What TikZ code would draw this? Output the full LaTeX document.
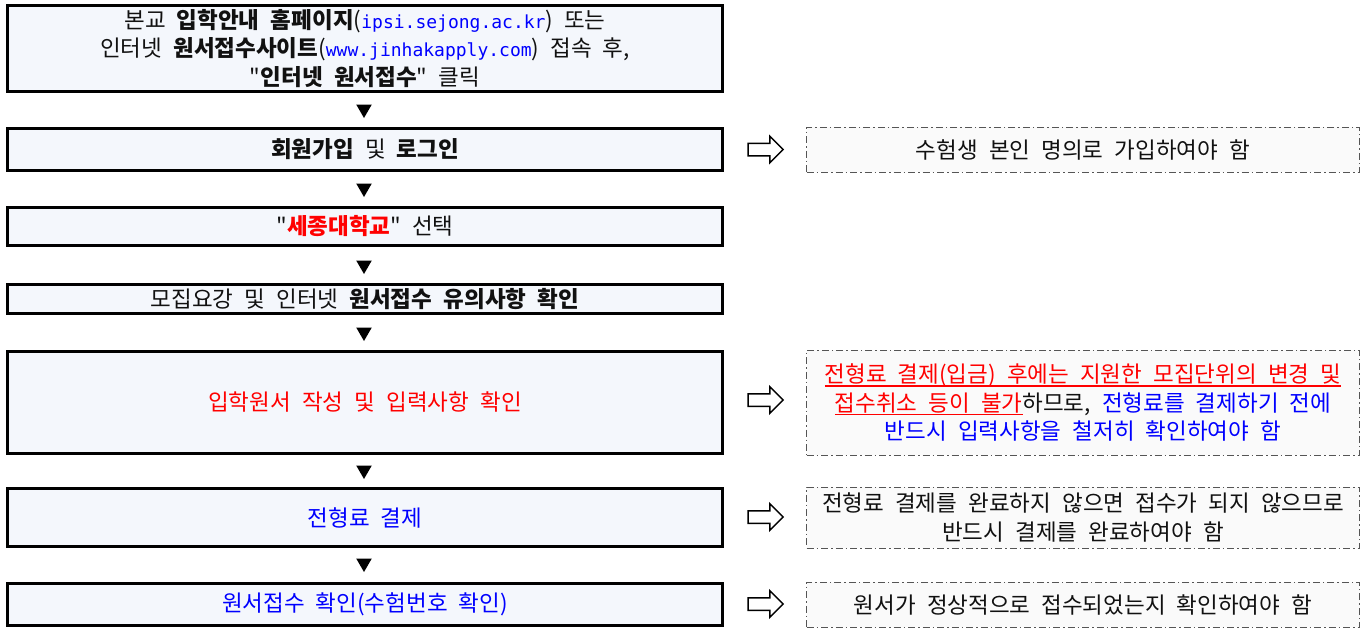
\documentclass[tikz,border=0pt]{standalone}
\usepackage{fontspec}
\newfontfamily\kfont{Noto Sans CJK KR}[WordSpace=2.2]
\newfontfamily\urlfont{DejaVu Sans Mono}
\usetikzlibrary{shapes.geometric,shapes.arrows}
\definecolor{lbfill}{HTML}{F4F7FC}
\definecolor{rbfill}{HTML}{FAFAFA}
\definecolor{kblue}{HTML}{0000FF}
\definecolor{kred}{HTML}{FF0000}
\definecolor{dashgray}{HTML}{555555}
\definecolor{ktext}{HTML}{111111}
\newcommand\myurl[1]{{\urlfont\fontsize{18}{28.5}\selectfont\textcolor{kblue}{#1}}}
\newcommand\myul[1]{\setbox0\hbox{#1}\rlap{\rule[-4pt]{\wd0}{1.2pt}}\box0}
\begin{document}
\begin{tikzpicture}[x=1pt,y=-1pt,
  leftbox/.style={draw=black, line width=3pt, fill=lbfill, minimum width=715pt,
    inner sep=0pt, align=center, text=ktext, font=\kfont\fontsize{22.5}{28.5}\selectfont},
  rightbox/.style={draw=dashgray, line width=1pt, dash pattern=on 7pt off 3pt on 1.5pt off 3pt,
    fill=rbfill, minimum width=553pt, inner sep=0pt, align=center, text=ktext,
    font=\kfont\fontsize{22.5}{28.5}\selectfont},
  downtri/.style={regular polygon, regular polygon sides=3, shape border rotate=180,
    fill=black, inner sep=0pt, minimum size=18pt},
  hollow/.style={single arrow, draw=black, line width=1.5pt, fill=white, inner sep=0pt,
    minimum height=35pt, single arrow head extend=7pt, single arrow head indent=0pt}
]
\useasboundingbox (0,0) rectangle (1371,629);

% left column
\node[leftbox, minimum height=86pt] (b1) at (365,48.5)
  {본교 \textbf{입학안내 홈페이지}(\myurl{ipsi.sejong.ac.kr}) 또는\\
   인터넷 \textbf{원서접수사이트}(\myurl{www.jinhakapply.com}) 접속 후,\\
   "\textbf{인터넷 원서접수}" 클릭};
\node[leftbox, minimum height=42pt] (b2) at (365,149.5)
  {\textbf{회원가입} 및 \textbf{로그인}};
\node[leftbox, minimum height=38pt] (b3) at (365,226.5)
  {"\textcolor{kred}{\textbf{세종대학교}}" 선택};
\node[leftbox, minimum height=29pt] (b4) at (365,299)
  {모집요강 및 인터넷 \textbf{원서접수 유의사항 확인}};
\node[leftbox, minimum height=102pt] (b5) at (365,402.5)
  {\textcolor{kred}{입학원서 작성 및 입력사항 확인}};
\node[leftbox, minimum height=58pt] (b6) at (365,517.5)
  {\textcolor{kblue}{전형료 결제}};
\node[leftbox, minimum height=42pt] (b7) at (365,604.5)
  {\textcolor{kblue}{원서접수 확인(수험번호 확인)}};

% down triangles
\node[downtri] (t1) at (364,109) {};
\node[downtri] (t2) at (364,188) {};
\node[downtri] (t3) at (364,265) {};
\node[downtri] (t4) at (364,332) {};
\node[downtri] (t5) at (364,470) {};
\node[downtri] (t6) at (364,563) {};

% right column
\node[rightbox, minimum height=45pt] (rA) at (1083,149.5)
  {수험생 본인 명의로 가입하여야 함};
\node[rightbox, minimum height=105pt] (rB) at (1083,402.5)
  {\textcolor{kred}{\myul{전형료 결제(입금) 후에는 지원한 모집단위의 변경 및}}\\
   \textcolor{kred}{\myul{접수취소 등이 불가}}하므로, \textcolor{kblue}{전형료를 결제하기 전에}\\
   \textcolor{kblue}{반드시 입력사항을 철저히 확인하여야 함}};
\node[rightbox, minimum height=61pt] (rC) at (1083,517.5)
  {전형료 결제를 완료하지 않으면 접수가 되지 않으므로\\
   반드시 결제를 완료하여야 함};
\node[rightbox, minimum height=45pt] (rD) at (1083,604.5)
  {원서가 정상적으로 접수되었는지 확인하여야 함};

% hollow arrows
\node[hollow] (aA) at (762.5,149.5) {\rule{0pt}{11pt}};
\node[hollow] (aB) at (762.5,400) {\rule{0pt}{11pt}};
\node[hollow] (aC) at (762.5,517) {\rule{0pt}{11pt}};
\node[hollow] (aD) at (762.5,604) {\rule{0pt}{11pt}};
\end{tikzpicture}
\end{document}
